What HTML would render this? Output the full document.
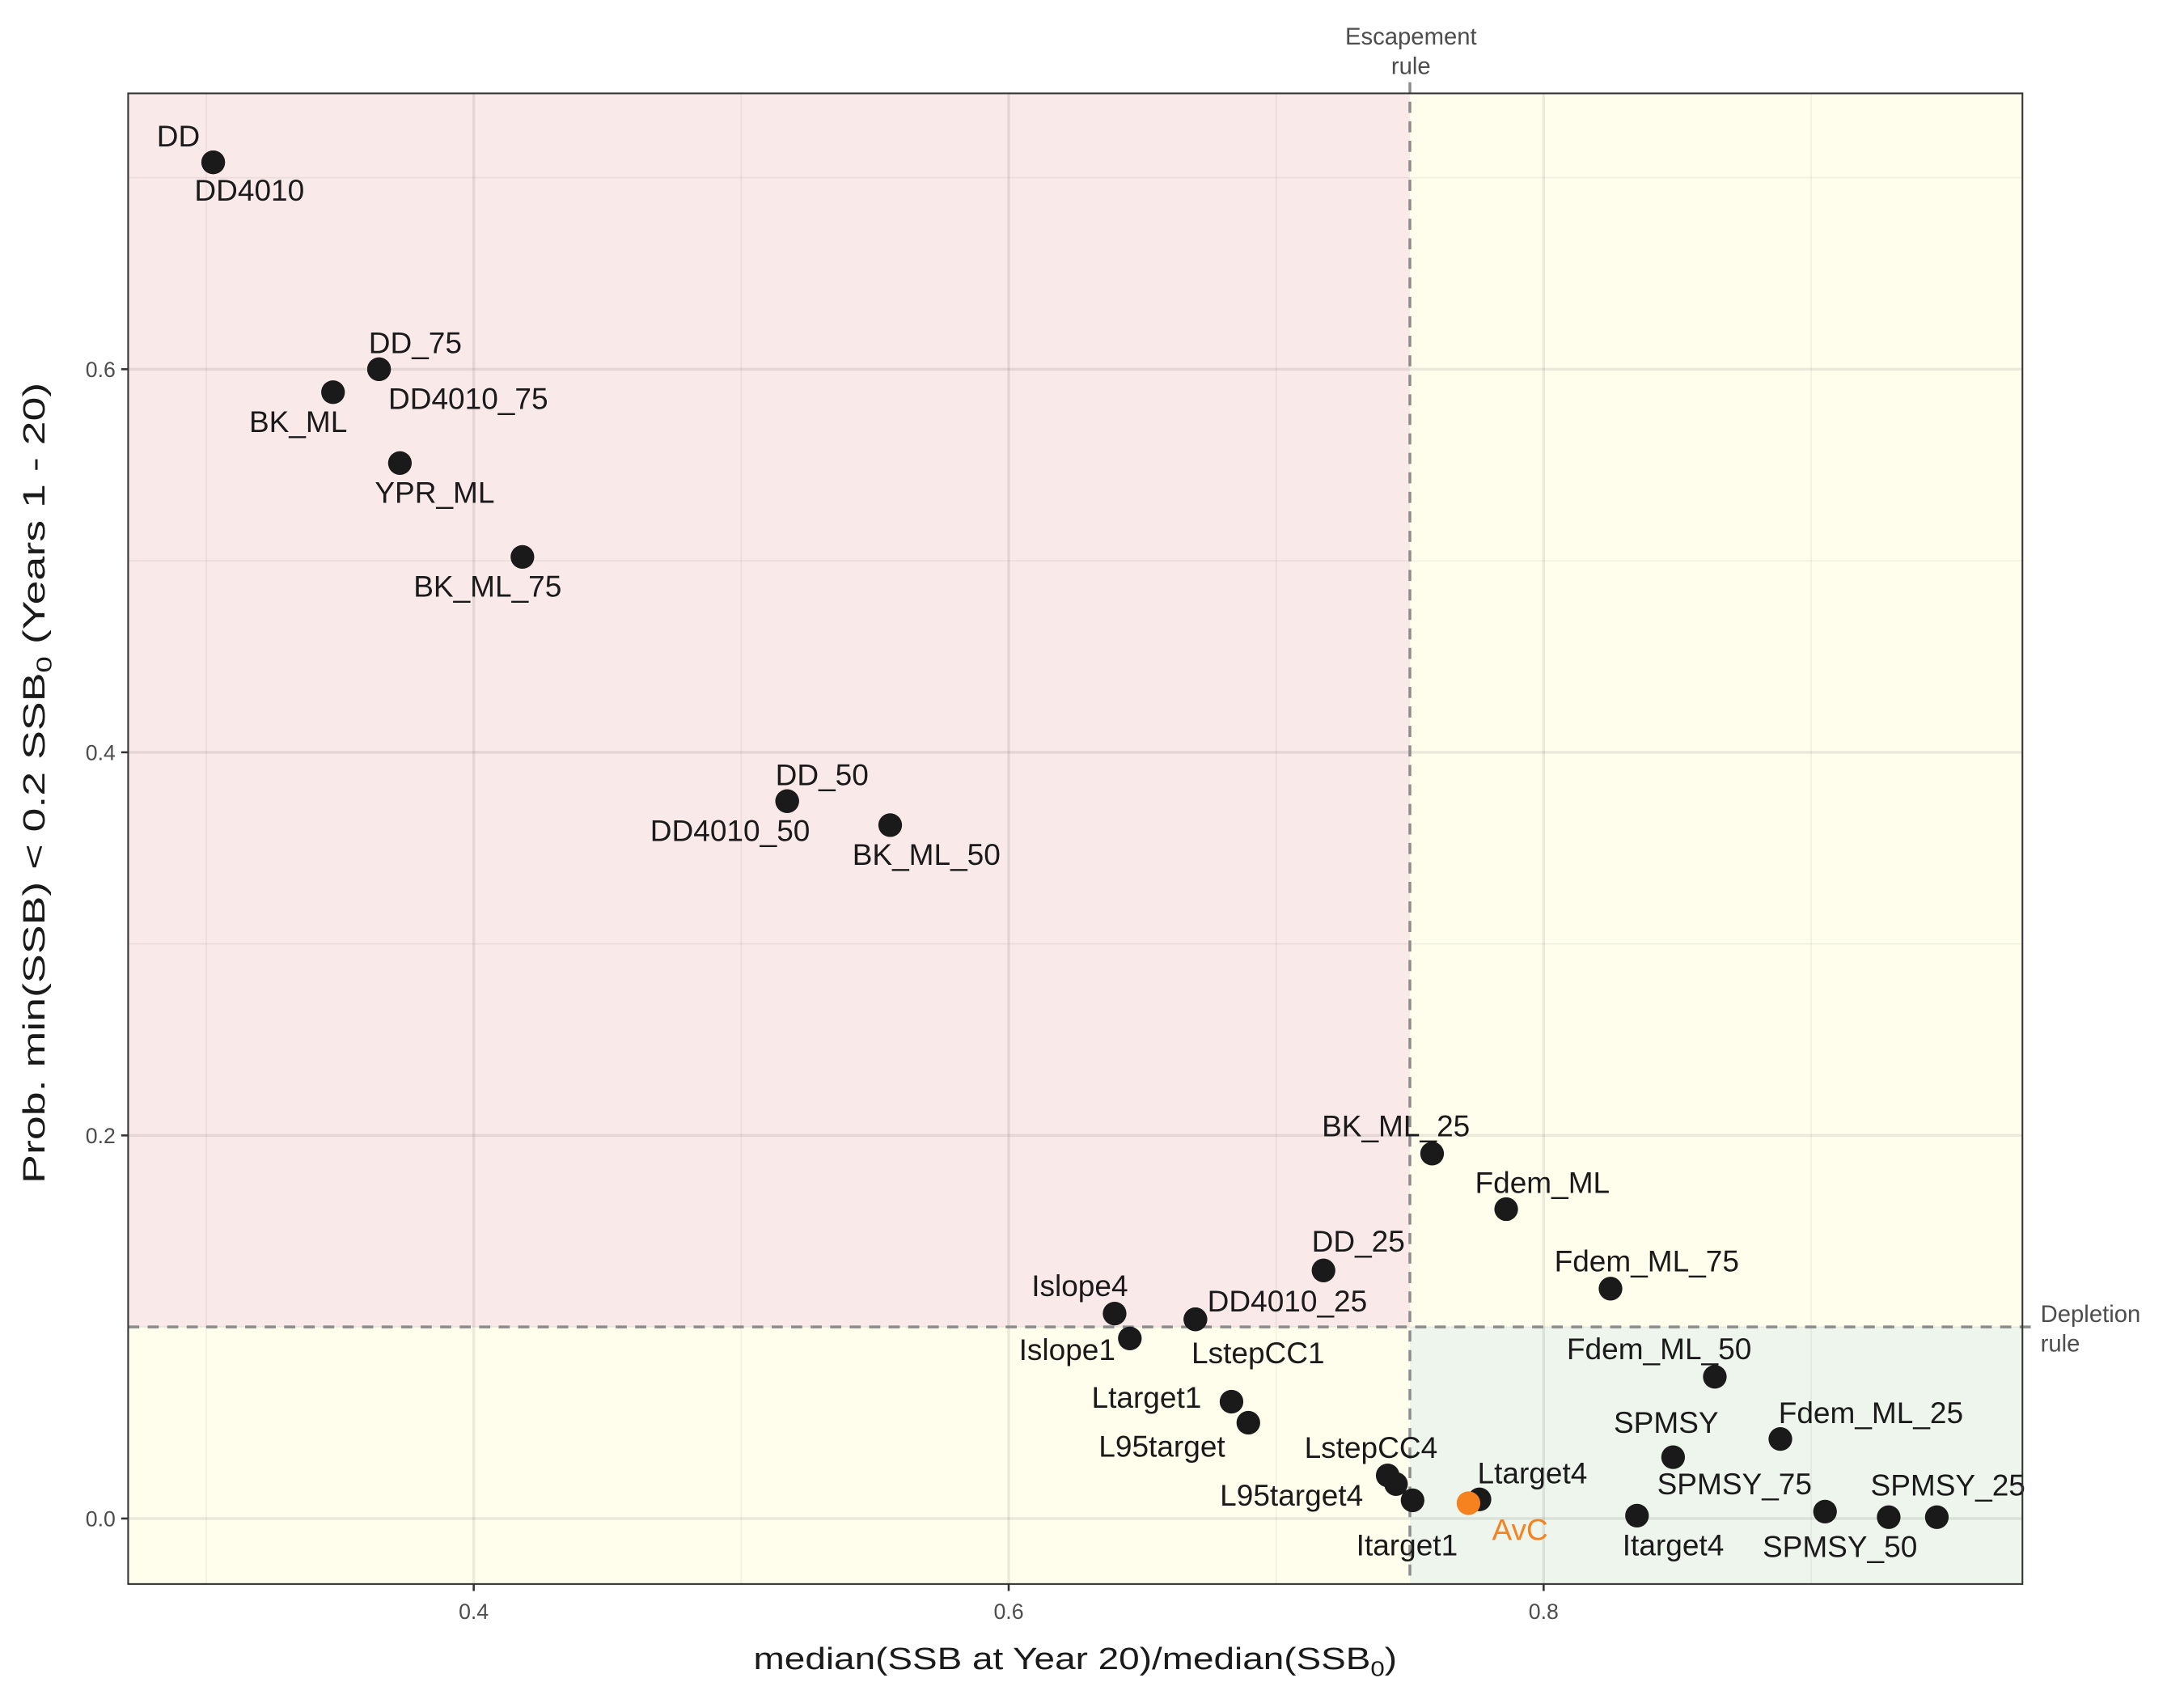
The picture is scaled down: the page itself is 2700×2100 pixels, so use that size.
<!DOCTYPE html>
<html><head><meta charset="utf-8"><style>
html,body{margin:0;padding:0;background:#fff}
svg{display:block}
text{font-family:"Liberation Sans",sans-serif}
</style></head><body>
<svg id="chart" width="2700" height="2100" viewBox="0 0 1568 1219.5" xmlns="http://www.w3.org/2000/svg">
<g id="bg"></g>
<g id="grid"></g>
<g id="refs"></g>
<g id="pts"></g>
<g id="labs"></g>
<rect x="92" y="67" width="1360" height="1070" fill="none" stroke="#333" stroke-width="1.2"/>
<g id="axes"></g>
<text x="772" y="1198" font-size="22" text-anchor="middle" fill="#1a1a1a" textLength="462" lengthAdjust="spacingAndGlyphs">median(SSB at Year 20)/median(SSB<tspan font-size="15" dy="5">0</tspan><tspan dy="-5">)</tspan></text>
<text transform="translate(32,562) rotate(-90)" font-size="22" text-anchor="middle" fill="#1a1a1a" textLength="575" lengthAdjust="spacingAndGlyphs">Prob. min(SSB) &lt; 0.2 SSB<tspan font-size="15" dy="5">0</tspan><tspan dy="-5"> (Years 1 - 20)</tspan></text>
<text x="1013" y="32" font-size="17" text-anchor="middle" fill="#4d4d4d">Escapement</text>
<text x="1013" y="53" font-size="17" text-anchor="middle" fill="#4d4d4d">rule</text>
<text x="1465" y="949" font-size="17" fill="#4d4d4d">Depletion</text>
<text x="1465" y="970" font-size="17" fill="#4d4d4d">rule</text>
</svg>
<script>
const names=["DD","DD4010","DD_75","BK_ML","DD4010_75","YPR_ML","BK_ML_75","DD_50","DD4010_50","BK_ML_50","BK_ML_25","Fdem_ML","DD_25","Fdem_ML_75","Islope4","DD4010_25","Islope1","LstepCC1","Fdem_ML_50","Ltarget1","L95target","Fdem_ML_25","SPMSY","LstepCC4","L95target4","Itarget1","Ltarget4","AvC","Itarget4","SPMSY_75","SPMSY_50","SPMSY_25"];
const xVals=[0.3026,0.3026,0.3646,0.3474,0.3646,0.3724,0.4182,0.5172,0.5172,0.5557,0.7583,0.786,0.7177,0.825,0.6396,0.6698,0.6453,0.6698,0.864,0.6833,0.6896,0.8885,0.8484,0.7417,0.7448,0.751,0.776,0.7719,0.8349,0.9052,0.929,0.947];
const yVals=[0.708,0.708,0.600,0.588,0.600,0.551,0.502,0.3745,0.3745,0.362,0.1905,0.1615,0.1295,0.12,0.107,0.104,0.094,0.104,0.074,0.061,0.050,0.0415,0.032,0.0225,0.018,0.0095,0.010,0.008,0.0015,0.0036,0.0007,0.0007];
const labelDx=[-25,26,26,-25,64,25,-25,25,-41,26,-26,26,25,26,-25,66,-45,45,-40,-61,-62,65,-5,-12,-75,-4,38,37,26,-65,-35,8];
const labelDy=[-19,20,-19,21,21,21,21,-19,21,21,-20,-19,-21,-20,-20,-13,8,24,-20,-3,17,-19,-25,-20,8,32,-19,19,21,-20,21,-23];
const xTicks=[0.4,0.6,0.8];
const yTicks=[0.0,0.2,0.4,0.6];
const xTickLabels=["0.4","0.6","0.8"];
const yTickLabels=["0.0","0.2","0.4","0.6"];
const xMinor=[0.3,0.5,0.7,0.9];
const yMinor=[0.1,0.3,0.5,0.7];
const escapementX=0.75, depletionY=0.1;
const xMin=0.2708,xMax=0.979,yMin=-0.0342,yMax=0.7440;
const L=92,R=1452,T=67,B=1137;
const sx=v=>L+(v-xMin)/(xMax-xMin)*(R-L);
const sy=v=>B-(v-yMin)/(yMax-yMin)*(B-T);
const NS="http://www.w3.org/2000/svg";
function mk(tag,parent,attrs){const e=document.createElementNS(NS,tag);for(const k in attrs)e.setAttribute(k,attrs[k]);parent.appendChild(e);return e;}
const bg=document.getElementById('bg');
let r=mk('rect',bg,{x:L,y:T,width:R-L,height:B-T,fill:'#FFFDEC'});


r=mk('rect',bg,{x:L,y:T,width:sx(escapementX)-L,height:sy(depletionY)-T,fill:'#F9E9E9'});


r=mk('rect',bg,{x:sx(escapementX),y:sy(depletionY),width:R-sx(escapementX),height:B-sy(depletionY),fill:'#EDF5EC'});


const grid=document.getElementById('grid');
xMinor.forEach(v=>{const l=mk('line',grid,{x1:sx(v),x2:sx(v),y1:T,y2:B,stroke:'rgba(0,0,0,0.05)','stroke-width':1});

});
yMinor.forEach(v=>{const l=mk('line',grid,{x1:L,x2:R,y1:sy(v),y2:sy(v),stroke:'rgba(0,0,0,0.05)','stroke-width':1});

});
xTicks.forEach(v=>{const l=mk('line',grid,{x1:sx(v),x2:sx(v),y1:T,y2:B,stroke:'rgba(0,0,0,0.08)','stroke-width':2});

});
yTicks.forEach(v=>{const l=mk('line',grid,{x1:L,x2:R,y1:sy(v),y2:sy(v),stroke:'rgba(0,0,0,0.08)','stroke-width':2});

});
const refs=document.getElementById('refs');
let d=mk('line',refs,{x1:sx(escapementX),x2:sx(escapementX),y1:59,y2:B,stroke:'#8c8c8c','stroke-width':2,'stroke-dasharray':'8,6'});


d=mk('line',refs,{x1:L,x2:R+9,y1:sy(depletionY),y2:sy(depletionY),stroke:'#8c8c8c','stroke-width':2,'stroke-dasharray':'8,6'});


const pts=document.getElementById('pts'),labs=document.getElementById('labs');
names.forEach((n,i)=>{
  const col=n==='AvC'?'#F5821F':'#1a1a1a';
  const c=mk('circle',pts,{cx:sx(xVals[i]),cy:sy(yVals[i]),r:8.5,fill:col});
  
  
  const t=mk('text',labs,{x:sx(xVals[i])+labelDx[i],y:sy(yVals[i])+labelDy[i]+7.5,'font-size':21.5,'text-anchor':'middle',fill:col});
  t.textContent=n;
  
  
});
const axes=document.getElementById('axes');
xTicks.forEach((v,i)=>{
  const l=mk('line',axes,{x1:sx(v),x2:sx(v),y1:B,y2:B+5,stroke:'#333','stroke-width':1.5});
  
  
  const t=mk('text',axes,{x:sx(v),y:B+25,'font-size':15.5,'text-anchor':'middle',fill:'#4d4d4d'});
  t.textContent=xTickLabels[i];
  
  
});
yTicks.forEach((v,i)=>{
  const l=mk('line',axes,{x1:L-5,x2:L,y1:sy(v),y2:sy(v),stroke:'#333','stroke-width':1.5});
  
  
  const t=mk('text',axes,{x:L-9,y:sy(v)+5.5,'font-size':15.5,'text-anchor':'end',fill:'#4d4d4d'});
  t.textContent=yTickLabels[i];
  
  
});
</script>
</body></html>
